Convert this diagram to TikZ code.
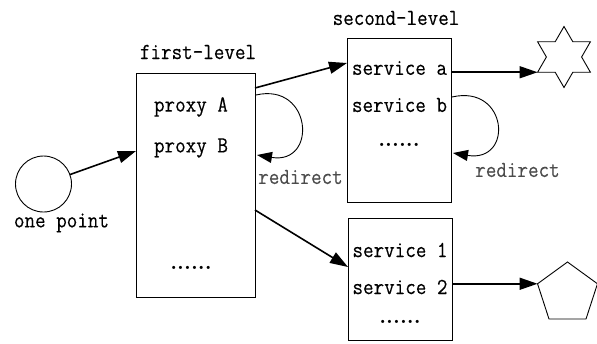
\documentclass[tikz,border=0pt]{standalone}
\usepackage{fontspec}
\usetikzlibrary{arrows.meta,shapes.geometric,calc}
\newfontfamily\labelfont[FakeBold=0.35]{Latin Modern Mono}
\begin{document}
\begin{tikzpicture}[x=1pt,y=-1pt,
  every node/.style={inner sep=0pt,outer sep=0pt},
  lbl/.style={font=\fontsize{20.5}{24}\selectfont\labelfont,yscale=1.12},
  faint/.style={lbl,text=black!70},
  dots/.style={font=\fontsize{22}{24}\selectfont\rmfamily\bfseries},
  box/.style={draw,line width=0.9pt},
  arr/.style={line width=1.6pt,-{Triangle[length=18pt,width=12pt]}},
  loop/.style={line width=0.9pt,-{Triangle[length=15pt,width=11pt]}}]
\useasboundingbox (0,0) rectangle (597,343);

% entry point
\node[draw,circle,line width=0.9pt,minimum size=56pt] (circ) at (43.5,184) {};
\node[lbl] (onept) at (61.5,223) {one point};

% first-level proxies
\node[box,minimum width=119pt,minimum height=224pt] (box1) at (195.5,185) {};
\node[lbl] (t1) at (198,52) {first-level};
\node[lbl] (pa) at (191,107) {proxy A};
\node[lbl] (pb) at (191,148) {proxy B};
\node[dots] (d1) at (191,268) {......};
\node[faint] (r1) at (300.5,177) {redirect};

% second-level services
\node[box,minimum width=104pt,minimum height=164pt] (box2) at (399,120) {};
\node[lbl] (t2) at (396,18) {second-level};
\node[lbl] (sa) at (399.5,68) {service a};
\node[lbl] (sb) at (399.5,105) {service b};
\node[dots] (d2) at (399,145) {......};
\node[faint] (r2) at (517.5,170) {redirect};

\node[box,minimum width=104pt,minimum height=122pt] (box3) at (400,279) {};
\node[lbl] (s1) at (400,250) {service 1};
\node[lbl] (s2) at (400,287) {service 2};
\node[dots] (d3) at (400,322) {......};

% targets
\node[draw,star,star points=6,star point ratio=1.732,minimum size=61pt,line width=0.9pt] (star) at (564,57) {};
\node[draw,regular polygon,regular polygon sides=5,minimum size=63pt,line width=0.9pt] (pent) at (567.5,293.5) {};

% connectors
\coordinate (b1in) at ($(box1.north west)+(0,78)$);
\coordinate (b1up) at ($(box1.north east)+(0,15)$);
\coordinate (b1dn) at ($(box1.north east)+(0,137)$);
\coordinate (b2in) at ($(box2.north west)+(0,25)$);
\coordinate (b3in) at ($(box3.north west)+(0,49)$);
\draw[arr] (circ) -- (b1in);
\draw[arr] (b1up) -- (b2in);
\draw[arr] (b1dn) -- (b3in);
\draw[arr] (box2.east |- star.outer point 3) -- (star.outer point 3);
\draw[arr] (box3.east |- pent.corner 2) -- (pent.corner 2);

% redirect loops
\coordinate (l1s) at ($(box1.north east)+(1,22)$);
\coordinate (l1e) at ($(box1.north east)+(2,82)$);
\draw[loop] (l1s) .. controls ($(l1s)+(56,-13)$) and ($(l1e)+(61,10)$) .. (l1e);
\coordinate (l2s) at ($(box2.north east)+(1,59)$);
\coordinate (l2e) at ($(box2.north east)+(2,115)$);
\draw[loop] (l2s) .. controls ($(l2s)+(56,-13)$) and ($(l2e)+(61,10)$) .. (l2e);
\end{tikzpicture}
\end{document}
